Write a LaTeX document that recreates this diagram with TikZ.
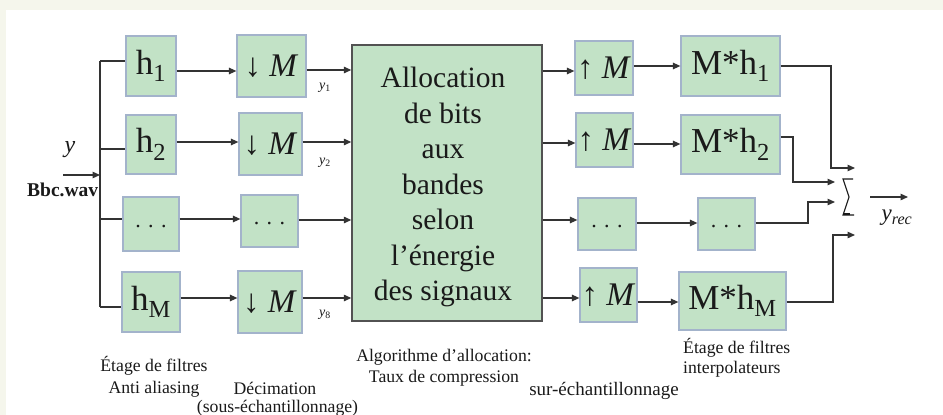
\documentclass[tikz,border=0pt]{standalone}
\usepackage{fontspec}
\setmainfont{Liberation Serif}
\usetikzlibrary{arrows.meta}
\definecolor{bgcream}{HTML}{F5F6EC}
\definecolor{boxfill}{HTML}{C2E2C6}
\definecolor{boxline}{HTML}{A3B3CB}
\definecolor{wire}{HTML}{333333}
\definecolor{ink}{HTML}{1A1A1A}
\begin{document}
\begin{tikzpicture}[x=1pt,y=-1pt,
  blk/.style={draw=boxline, line width=1.2pt, fill=boxfill, inner sep=0pt, text=ink},
  hlab/.style={font=\fontsize{35}{40}\selectfont},
  mlab/.style={font=\fontsize{33}{38}\selectfont},
  dlab/.style={font=\fontsize{22}{26}\selectfont},
  wireline/.style={draw=wire, line width=1.3pt},
  arr/.style={wireline, -{Triangle[length=7.5pt,width=6.5pt]}},
  lbl/.style={text=ink, inner sep=0pt, font=\fontsize{17.7}{21}\selectfont, align=center},
  sig/.style={text=ink, inner sep=0pt, font=\itshape\fontsize{14}{16}\selectfont},
]
\fill[bgcream] (0,0) rectangle (943,415);
\fill[white] (6,10) rectangle (943,415);
\useasboundingbox (0,0) rectangle (943,415);

% analysis filters
\node[blk, hlab, minimum width=50pt, minimum height=60pt] (h1) at (151,66) {h\textsubscript{1}};
\node[blk, hlab, minimum width=50pt, minimum height=59pt] (h2) at (151,144.5) {h\textsubscript{2}};
\node[blk, dlab, minimum width=56pt, minimum height=54pt] (hd) at (151,224) {\raisebox{-8pt}{. . .}};
\node[blk, hlab, minimum width=58pt, minimum height=60pt] (hM) at (151,302) {h\textsubscript{M}};

% decimators
\node[blk, mlab, minimum width=69pt, minimum height=62pt] (d1) at (271.5,66) {↓ \textit{M}};
\node[blk, mlab, minimum width=63pt, minimum height=62pt] (d2) at (270.5,144) {↓ \textit{M}};
\node[blk, dlab, minimum width=57pt, minimum height=52pt] (dd) at (269.5,221) {\raisebox{-8pt}{. . .}};
\node[blk, mlab, minimum width=64pt, minimum height=62pt] (dM) at (270,302) {↓ \textit{M}};

% allocation block
\node[blk, draw=wire!85, line width=1.4pt, minimum width=190pt, minimum height=276pt] (alloc) at (447,183) {};
\node[text=ink, align=center, inner sep=0pt, font=\fontsize{29.5}{35.5}\selectfont] (alloctxt) at (443,187)
  {Allocation\\de bits\\aux\\bandes\\selon\\l’énergie\\des signaux};

% upsamplers
\node[blk, mlab, minimum width=58pt, minimum height=54pt] (u1) at (604,68) {↑ \textit{M}};
\node[blk, mlab, minimum width=57pt, minimum height=54pt] (u2) at (604.5,140) {↑ \textit{M}};
\node[blk, dlab, minimum width=58pt, minimum height=52pt] (ud) at (607,224) {\raisebox{-8pt}{. . .}};
\node[blk, mlab, minimum width=57pt, minimum height=54pt] (uM) at (608.5,295) {↑ \textit{M}};

% synthesis filters
\node[blk, hlab, minimum width=99pt, minimum height=60pt] (f1) at (730.5,66) {M*h\textsubscript{1}};
\node[blk, hlab, minimum width=99pt, minimum height=59pt] (f2) at (730.5,144.5) {M*h\textsubscript{2}};
\node[blk, dlab, minimum width=57pt, minimum height=52pt] (fd) at (726.5,224) {\raisebox{-8pt}{. . .}};
\node[blk, hlab, minimum width=107pt, minimum height=58pt] (fM) at (732.5,301) {M*h\textsubscript{M}};

% input
\node[text=ink, inner sep=0pt, font=\itshape\fontsize{24}{26}\selectfont] (ylab) at (70,150) {y};
\node[text=ink, inner sep=0pt, anchor=west, font=\bfseries\fontsize{19.5}{22}\selectfont] (bbc) at (27,190) {Bbc.wav};
\coordinate (in) at (63,175);
\coordinate (bin) at (100,175);
\coordinate (b1) at (100,61);
\coordinate (b2) at (100,149);
\coordinate (b3) at (100,219);
\coordinate (b4) at (100,307);
\draw[arr] (in) -- (bin);
\draw[wireline] (b1) -- (b4);
\draw[wireline] (b1) -- (b1 -| h1.west);
\draw[wireline] (b2) -- (b2 -| h2.west);
\draw[wireline] (b3) -- (b3 -| hd.west);
\draw[wireline] (b4) -- (b4 -| hM.west);

% filters -> decimators
\draw[arr] (h1.east |- 0,71) -- (d1.west |- 0,71);
\draw[arr] (h2.east |- 0,142) -- (d2.west |- 0,142);
\draw[arr] (hd.east |- 0,219) -- (dd.west |- 0,219);
\draw[arr] (hM.east |- 0,298) -- (dM.west |- 0,298);

% decimators -> allocation
\draw[arr] (d1.east |- 0,70) -- (alloc.west |- 0,70);
\draw[arr] (d2.east |- 0,142) -- (alloc.west |- 0,142);
\draw[arr] (dd.east |- 0,220) -- (alloc.west |- 0,220);
\draw[arr] (dM.east |- 0,298) -- (alloc.west |- 0,298);
\node[sig] (y1) at (325,88) {y\textsubscript{\upshape 1}};
\node[sig] (y2) at (325,163) {y\textsubscript{\upshape 2}};
\node[sig] (y8) at (325,315) {y\textsubscript{\upshape 8}};

% allocation -> upsamplers
\draw[arr] (alloc.east |- 0,71) -- (u1.west |- 0,71);
\draw[arr] (alloc.east |- 0,143) -- (u2.west |- 0,143);
\draw[arr] (alloc.east |- 0,220) -- (ud.west |- 0,220);
\draw[arr] (alloc.east |- 0,298) -- (uM.west |- 0,298);

% upsamplers -> synthesis filters
\draw[arr] (u1.east |- 0,66) -- (f1.west |- 0,66);
\draw[arr] (u2.east |- 0,144) -- (f2.west |- 0,144);
\draw[arr] (ud.east |- 0,223) -- (fd.west |- 0,223);
\draw[arr] (uM.east |- 0,302) -- (fM.west |- 0,302);

% summation
\coordinate (s1) at (855,168);
\coordinate (s2) at (835,182);
\coordinate (s3) at (835,202);
\coordinate (s4) at (855,235);
\draw[arr] (f1.east |- 0,66) -| (831,168) -- (s1);
\draw[arr] (f2.east |- 0,137) -| (793,182) -- (s2);
\draw[arr] (fd.east |- 0,223) -| (808,202) -- (s3);
\draw[arr] (fM.east |- 0,302) -| (833,235) -- (s4);
\draw[ink, line width=1.1pt, line join=miter] (853,179) -- (843,179) -- (849,197) -- (843,215) -- (854,215);
\draw[ink, line width=2pt] (843,214) -- (850,214);
\coordinate (sumout) at (870,197);
\coordinate (yout) at (908,197);
\draw[arr] (sumout) -- (yout);
\node[text=ink, inner sep=0pt, font=\itshape\fontsize{23}{25}\selectfont] (yrec) at (897,218) {y\textsubscript{rec}};

% captions
\node[lbl, font=\fontsize{17.7}{22}\selectfont] (lab1) at (154,377) {Étage de filtres\\Anti aliasing};
\node[lbl] (lab2) at (275,388) {Décimation};
\node[lbl] (lab3) at (277.5,408) {(sous-échantillonnage)};
\node[lbl] (lab4) at (444,367.5) {Algorithme d’allocation:\\Taux de compression};
\node[lbl, font=\fontsize{19}{22}\selectfont] (lab5) at (604,391) {sur-échantillonnage};
\node[lbl, align=left, anchor=west, font=\fontsize{17.7}{20}\selectfont] (lab6) at (683,358) {Étage de filtres\\interpolateurs};
\end{tikzpicture}
\end{document}
